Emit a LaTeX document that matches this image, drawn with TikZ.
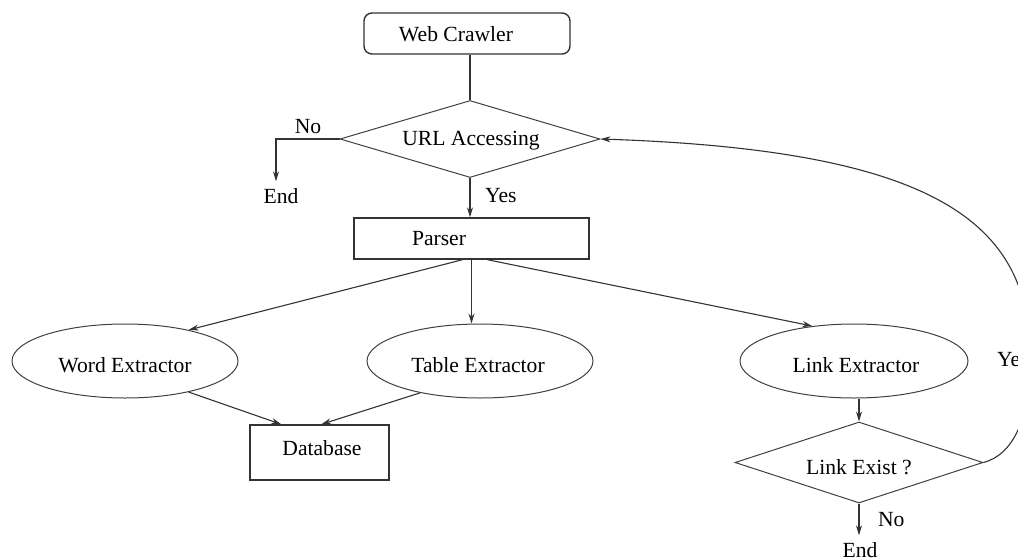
\documentclass[tikz,border=0pt]{standalone}
\usepackage{fontspec}
\setmainfont{Liberation Serif}
\usetikzlibrary{shapes.geometric,arrows.meta}
\begin{document}
\begin{tikzpicture}[x=0.5pt,y=-0.5pt,
  every node/.style={font=\fontsize{10.8}{12}\selectfont},
  box/.style={draw=black!80, line width=0.7pt, inner sep=0pt},
  rbox/.style={box, rounded corners=4pt},
  ell/.style={ellipse, draw=black!75, line width=0.5pt, inner sep=0pt, minimum width=113pt, minimum height=37pt},
  dia/.style={diamond, draw=black!75, line width=0.5pt, inner sep=0pt},
  ln/.style={draw=black!80, line width=0.55pt},
  arr/.style={ln, -{Stealth[length=5pt,width=3pt]}}]
\useasboundingbox (0,0) rectangle (1018,558);
\clip (0,0) rectangle (1018,558);
% nodes
\node[rbox, minimum width=103pt, minimum height=20.5pt] (wc) at (467,33.5) {};
\node at (456,34) (wct) {Web Crawler};
\node[dia, minimum width=130pt, minimum height=38.5pt] (ua) at (470,139) {};
\node at (471,141) (uat) {URL Accessing};
\node (end1) at (281,196) {End};
\node[box, minimum width=117.5pt, minimum height=20.5pt] (parser) at (471.5,238.5) {};
\node at (439,239) (pt) {Parser};
\node[ell] (we) at (125,361) {};
\node at (125,365) (wet) {Word Extractor};
\node[ell] (te) at (480,361) {};
\node at (478,365) (tet) {Table Extractor};
\node[ell, minimum width=114pt] (le) at (854,361) {};
\node at (856,365) (let) {Link Extractor};
\node[box, minimum width=69.5pt, minimum height=27.5pt] (db) at (319.5,452.5) {};
\node at (322,448) (dbt) {Database};
\node[dia, minimum width=124pt, minimum height=40.5pt] (ld) at (859,462.5) {};
\node at (859,467) (ldt) {Link Exist ?};
\node (end2) at (860,550) {End};
% labels
\node at (308,127) (no1) {No};
\node[anchor=west] at (478,196) (yes1) {Yes};
\node[anchor=west] at (871,520) (no2) {No};
\node[anchor=west] at (990,360) (yes2) {Yes};
% connectors
\draw[ln] (ua.north |- wc.south) -- (ua.north);
\draw[arr] (ua.west) -| ([xshift=-2.5pt]end1.north);
\draw[arr] (ua.south) -- (parser.north -| ua.south);
\draw[arr] ([xshift=-4.5pt]parser.south) -- (we.26);
\draw[arr] (parser.south) -- (parser.south |- te.north);
\draw[arr] ([xshift=8pt]parser.south) -- (le.140);
\draw[arr] (we.-26) -- ([xshift=16pt]db.north west);
\draw[arr] (te.-152) -- ([xshift=36pt]db.north west);
\draw[arr] (le.south -| ld.north) -- (ld.north);
\draw[arr] (ld.south) -- (end2.north -| ld.south);
\draw[arr] (ld.east) .. controls (1012,455) and (1032,420) .. (1030,350)
  .. controls (1027,220) and (930,150) .. (ua.east);
\end{tikzpicture}
\end{document}
